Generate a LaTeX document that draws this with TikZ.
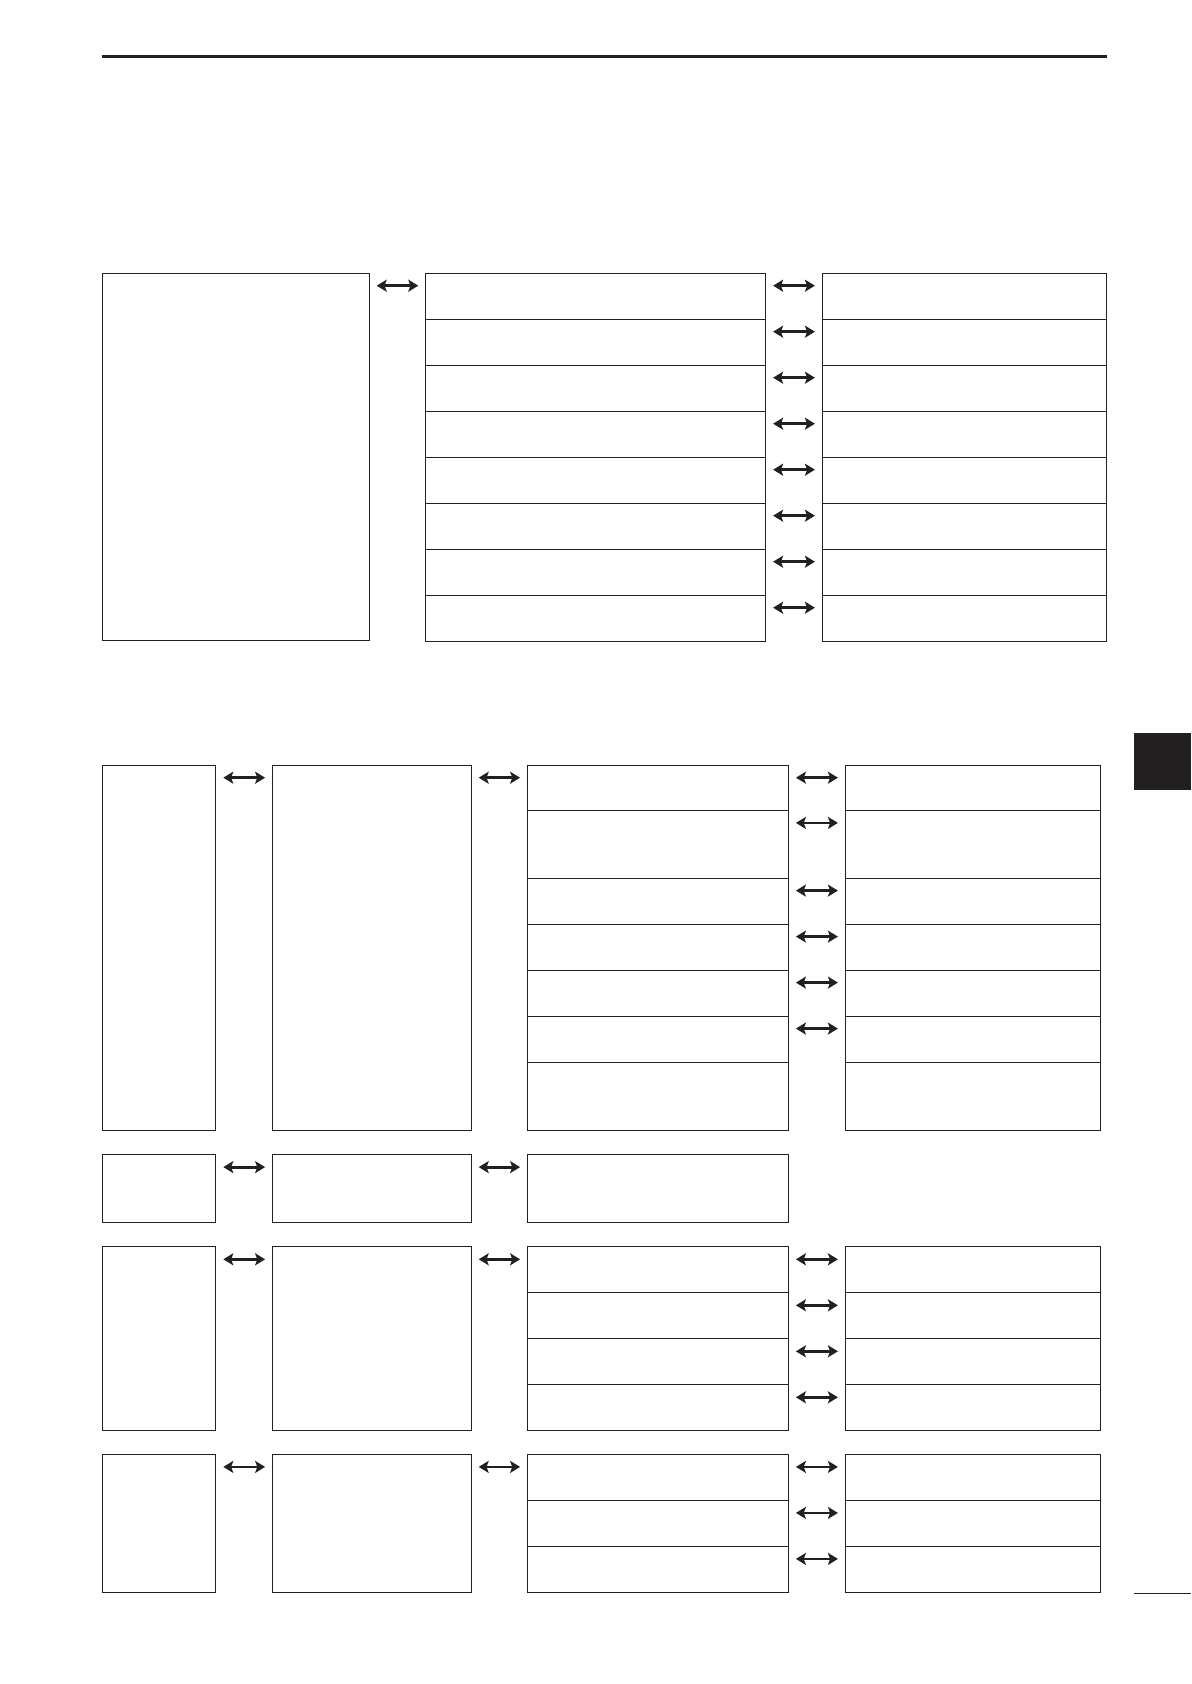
\documentclass[tikz,border=0pt]{standalone}
\usetikzlibrary{arrows.meta}
\definecolor{ink}{HTML}{231F20}
\begin{document}
\begin{tikzpicture}[x=0.5pt,y=-0.5pt,
  box/.style={draw=ink, line width=0.65pt, rectangle, inner sep=0pt, outer sep=0pt, anchor=north west},
  dbl/.style={draw=ink, line width=1.4pt, {Stealth[length=5pt,width=6pt,inset=1.1pt]}-{Stealth[length=5pt,width=6pt,inset=1.1pt]}},
]
\useasboundingbox (0,0) rectangle (1191,1684);
% header rule
\draw[ink, line width=1.3pt] (102.3,56.7) -- (1106.5,56.7);
% side tab and footer rule
\fill[ink] (1134,733.3) rectangle (1191,790.3);
\draw[ink, line width=0.65pt] (1134,1593.3) -- (1191,1593.3);

% ---------- Section 1 ----------
\node[box, minimum width=133.5pt, minimum height=183.5pt] (L) at (102.3,273.3) {};
\foreach \i in {1,...,8} {
  \pgfmathsetmacro\yy{273.3+(\i-1)*46}
  \node[box, minimum width=170.1pt, minimum height=23pt] (m\i) at (425.3,\yy) {};
  \node[box, minimum width=142pt, minimum height=23pt] (r\i) at (822.5,\yy) {};
  \draw[dbl] ([shift={(3.8pt,-6.2pt)}]m\i.north east) -- ([shift={(-3.8pt,-6.2pt)}]r\i.north west);
}
\draw[dbl] ([shift={(3.7pt,-6.2pt)}]L.north east) -- ([shift={(-3.5pt,-6.2pt)}]m1.north west);

% ---------- Group A ----------
\node[box, minimum width=56.7pt, minimum height=182.5pt] (a1) at (102.3,765.3) {};
\node[box, minimum width=99.7pt, minimum height=182.5pt] (a2) at (272.3,765.3) {};
\foreach \t/\h/\n in {765.3/22.6/1, 810.5/33.85/2, 878.2/23/3, 924.2/23/4, 970.2/23/5, 1016.2/23.2/6, 1062.6/33.85/7} {
  \node[box, minimum width=130.5pt, minimum height=\h pt] (a3\n) at (527.3,\t) {};
  \node[box, minimum width=127.4pt, minimum height=\h pt] (a4\n) at (845.5,\t) {};
}
\foreach \n in {1,...,6} {
  \draw[dbl] ([shift={(3.8pt,-6.2pt)}]a3\n.north east) -- ([shift={(-3.8pt,-6.2pt)}]a4\n.north west);
}
\draw[dbl] ([shift={(3.8pt,-6.2pt)}]a1.north east) -- ([shift={(-3.6pt,-6.2pt)}]a2.north west);
\draw[dbl] ([shift={(3.5pt,-6.2pt)}]a2.north east) -- ([shift={(-3.6pt,-6.2pt)}]a31.north west);

% ---------- Group B ----------
\node[box, minimum width=56.7pt, minimum height=34pt] (b1) at (102.3,1154.3) {};
\node[box, minimum width=99.7pt, minimum height=34pt] (b2) at (272.3,1154.3) {};
\node[box, minimum width=130.5pt, minimum height=34pt] (b3) at (527.3,1154.3) {};
\draw[dbl] ([shift={(3.8pt,-6.4pt)}]b1.north east) -- ([shift={(-3.6pt,-6.4pt)}]b2.north west);
\draw[dbl] ([shift={(3.5pt,-6.4pt)}]b2.north east) -- ([shift={(-3.6pt,-6.4pt)}]b3.north west);

% ---------- Group C ----------
\node[box, minimum width=56.7pt, minimum height=92pt] (c1) at (102.3,1246.3) {};
\node[box, minimum width=99.7pt, minimum height=92pt] (c2) at (272.3,1246.3) {};
\foreach \n in {1,...,4} {
  \pgfmathsetmacro\yy{1246.3+(\n-1)*46}
  \node[box, minimum width=130.5pt, minimum height=23pt] (c3\n) at (527.3,\yy) {};
  \node[box, minimum width=127.4pt, minimum height=23pt] (c4\n) at (845.5,\yy) {};
  \draw[dbl] ([shift={(3.8pt,-6.5pt)}]c3\n.north east) -- ([shift={(-3.8pt,-6.5pt)}]c4\n.north west);
}
\draw[dbl] ([shift={(3.8pt,-6.5pt)}]c1.north east) -- ([shift={(-3.6pt,-6.5pt)}]c2.north west);
\draw[dbl] ([shift={(3.5pt,-6.5pt)}]c2.north east) -- ([shift={(-3.6pt,-6.5pt)}]c31.north west);

% ---------- Group D ----------
\node[box, minimum width=56.7pt, minimum height=69pt] (d1) at (102.3,1454.3) {};
\node[box, minimum width=99.7pt, minimum height=69pt] (d2) at (272.3,1454.3) {};
\foreach \n in {1,...,3} {
  \pgfmathsetmacro\yy{1454.3+(\n-1)*46}
  \node[box, minimum width=130.5pt, minimum height=23pt] (d3\n) at (527.3,\yy) {};
  \node[box, minimum width=127.4pt, minimum height=23pt] (d4\n) at (845.5,\yy) {};
  \draw[dbl] ([shift={(3.8pt,-6.3pt)}]d3\n.north east) -- ([shift={(-3.8pt,-6.3pt)}]d4\n.north west);
}
\draw[dbl] ([shift={(3.8pt,-6.3pt)}]d1.north east) -- ([shift={(-3.6pt,-6.3pt)}]d2.north west);
\draw[dbl] ([shift={(3.5pt,-6.3pt)}]d2.north east) -- ([shift={(-3.6pt,-6.3pt)}]d31.north west);
\end{tikzpicture}
\end{document}
